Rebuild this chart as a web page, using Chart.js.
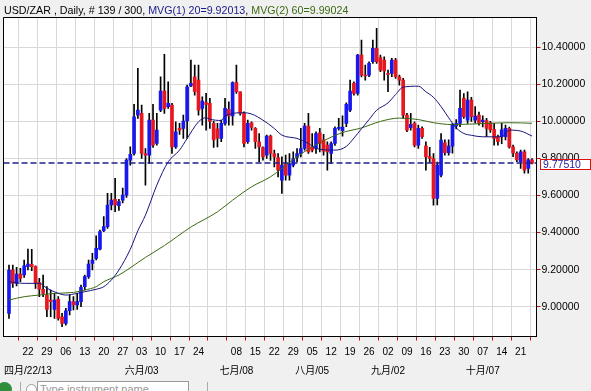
<!DOCTYPE html>
<html><head><meta charset="utf-8">
<script src="https://cdn.jsdelivr.net/npm/chart.js@4.4.1/dist/chart.umd.min.js"></script>
<style>
html,body{margin:0;padding:0;background:#f0f0f0;width:591px;height:391px;overflow:hidden;position:relative;font-family:"Liberation Sans",Arial,sans-serif;}
#c{position:absolute;left:0;top:0;}
#title{position:absolute;left:4px;top:3.5px;font-size:10.7px;line-height:12px;white-space:nowrap;color:#000;}
.m1{color:#1a1a8c}.m2{color:#3d6a14}
#dot{position:absolute;left:-3px;top:382px;width:15px;height:15px;border-radius:50%;background:#2f8f3a;}
#sep1{position:absolute;left:20px;top:382px;width:1px;height:12px;background:#aaa;}
#radio{position:absolute;left:26px;top:384px;width:9px;height:9px;border-radius:50%;border:1px solid #999;background:#fff;}
#inp{position:absolute;left:37px;top:381px;width:148px;height:14px;border:1px solid #9a9a9a;background:#fff;font-size:11px;color:#999;line-height:14px;padding-left:2px;white-space:nowrap;overflow:hidden;}
#sep2{position:absolute;left:207px;top:382px;width:1px;height:12px;background:#aaa;}
</style></head>
<body>
<canvas id="c" width="591" height="391"></canvas>
<div id="title">USD/ZAR , Daily, # 139 / 300, <span class="m1">MVG(1) 20=9.92013</span>, <span class="m2">MVG(2) 60=9.99024</span></div>
<div id="dot"></div><div id="sep1"></div><div id="radio"></div><div id="inp">Type instrument name</div><div id="sep2"></div>
<script>
// ---- data (daily candles, 15 Apr 2013 .. 24 Oct 2013) ----
const opens = [8.964,9.198,9.126,9.176,9.171,9.216,9.229,9.216,9.130,9.094,
9.063,9.036,8.986,9.040,8.946,8.910,8.978,9.027,9.009,9.027,
9.108,9.162,9.234,9.261,9.310,9.410,9.432,9.549,9.580,9.545,
9.575,9.602,9.791,9.827,10.034,10.043,9.827,9.818,10.007,9.881,
10.061,10.164,10.079,10.088,9.863,9.962,9.962,10.002,10.192,10.241,
10.223,10.070,10.102,10.097,9.990,9.960,9.908,9.989,10.065,10.029,
10.209,10.160,10.043,9.890,9.993,9.962,9.890,9.859,9.818,9.921,
9.827,9.805,9.683,9.773,9.710,9.764,9.805,9.827,9.854,9.975,
9.863,9.854,9.939,9.900,9.872,9.827,9.881,9.962,9.950,9.989,
10.061,10.205,10.151,10.358,10.250,10.250,10.322,10.394,10.344,10.331,
10.259,10.259,10.331,10.241,10.223,10.034,9.966,9.989,9.872,9.962,
9.868,9.810,9.800,9.584,9.710,9.885,9.831,9.867,9.975,9.989,
10.124,10.007,10.115,10.007,10.034,9.998,10.004,9.993,9.957,9.917,
9.917,9.917,9.962,9.863,9.828,9.783,9.836,9.746,9.792];
const highs = [9.225,9.225,9.212,9.207,9.252,9.311,9.310,9.220,9.153,9.171,
9.108,9.090,9.072,9.054,8.964,8.991,9.063,9.054,9.072,9.117,
9.171,9.252,9.288,9.382,9.414,9.486,9.612,9.612,9.693,9.580,
9.640,9.800,9.863,10.092,10.286,10.088,9.854,10.043,10.092,10.043,
10.241,10.362,10.214,10.097,9.998,9.990,10.034,10.196,10.331,10.304,
10.304,10.133,10.151,10.124,10.000,9.990,10.007,10.124,10.106,10.214,
10.304,10.160,10.052,10.007,9.998,9.967,9.935,9.863,9.926,9.926,
9.845,9.827,9.809,9.818,9.827,9.836,9.854,9.962,9.989,10.043,
9.935,9.944,9.962,9.930,9.890,9.890,9.971,10.016,10.030,10.100,
10.223,10.214,10.362,10.439,10.304,10.322,10.439,10.502,10.358,10.349,
10.277,10.340,10.340,10.250,10.232,10.043,10.043,9.998,9.980,9.971,
9.890,9.860,9.827,9.780,9.935,9.900,9.900,9.990,10.010,10.169,
10.150,10.160,10.130,10.080,10.050,10.030,10.016,10.000,9.990,9.926,
9.990,9.980,9.970,9.872,9.836,9.845,9.845,9.800,9.800];
const lows = [8.937,9.104,9.112,9.135,9.158,9.198,9.194,9.099,9.054,9.054,
8.946,8.946,8.937,8.928,8.892,8.901,8.955,8.982,8.986,9.000,
9.090,9.153,9.198,9.252,9.306,9.405,9.423,9.522,9.513,9.520,
9.560,9.590,9.764,9.818,10.016,9.800,9.656,9.773,9.860,9.872,
10.052,10.043,10.070,9.827,9.854,9.930,9.908,9.908,10.187,10.142,
10.034,9.980,9.953,9.962,9.860,9.863,9.890,9.980,9.980,9.980,
10.151,10.034,9.863,9.881,9.953,9.854,9.782,9.791,9.800,9.790,
9.755,9.701,9.611,9.683,9.683,9.755,9.782,9.809,9.845,9.827,
9.836,9.827,9.836,9.818,9.737,9.773,9.870,9.953,9.920,9.971,
10.052,10.142,10.142,10.240,10.223,10.241,10.313,10.313,10.268,10.223,
10.160,10.241,10.232,10.196,10.016,9.944,9.953,9.863,9.854,9.908,
9.737,9.780,9.548,9.549,9.700,9.818,9.818,9.828,9.960,9.971,
10.016,9.989,10.000,9.990,9.980,9.970,9.917,9.940,9.872,9.872,
9.880,9.900,9.855,9.810,9.783,9.746,9.720,9.720,9.770];
const closes = [9.198,9.126,9.176,9.153,9.220,9.230,9.216,9.130,9.094,9.072,
8.986,9.027,9.036,8.937,8.910,8.978,9.027,9.009,9.027,9.104,
9.162,9.230,9.252,9.315,9.405,9.432,9.549,9.576,9.549,9.568,
9.602,9.791,9.822,10.025,10.061,9.827,9.818,10.007,9.872,9.953,
10.164,10.070,10.097,9.863,9.944,9.953,10.002,10.187,10.205,10.160,
10.061,10.110,10.092,10.000,9.900,9.910,9.989,10.070,10.029,10.209,
10.160,10.043,9.881,9.989,9.967,9.890,9.863,9.809,9.921,9.827,
9.809,9.737,9.764,9.710,9.773,9.800,9.827,9.854,9.975,9.836,
9.845,9.935,9.881,9.840,9.836,9.881,9.962,9.966,9.970,10.092,
10.164,10.151,10.358,10.250,10.245,10.313,10.394,10.322,10.277,10.272,
10.254,10.331,10.241,10.223,10.034,9.953,9.984,9.872,9.962,9.917,
9.809,9.800,9.584,9.764,9.899,9.831,9.867,9.980,9.990,10.070,
10.025,10.115,10.025,10.029,9.989,10.007,9.962,9.954,9.908,9.890,
9.954,9.962,9.863,9.828,9.792,9.836,9.737,9.792,9.7751];

// moving averages (candle index -> value)
const ma20Idx = [0,4,8,10,13,15,18,20,23,25,27,29,32,34,36,39,42,45,47,50,52,53,56,57,62,64,67,70,72,76,79,81,86,89,91,93,95,97,100,102,104,108,110,112,114,116,118,120,122,125,130,132,135,138];
const ma20Val = [9.135,9.126,9.126,9.100,9.072,9.063,9.072,9.081,9.094,9.108,9.144,9.198,9.310,9.410,9.494,9.656,9.782,9.845,9.908,9.998,10.020,10.012,10.005,10.029,10.047,10.040,10.007,9.962,9.926,9.908,9.881,9.854,9.845,9.865,9.910,9.960,10.010,10.060,10.100,10.145,10.185,10.190,10.160,10.130,10.080,10.020,9.965,9.935,9.925,9.917,9.917,9.953,9.948,9.921];
const ma60Idx = [0,4,8,12,17,20,23,25,27,29,36,41,48,55,59,64,69,72,76,79,82,85,88,93,98,103,108,112,117,126,132,138];
const ma60Val = [9.036,9.054,9.063,9.072,9.077,9.090,9.108,9.135,9.153,9.171,9.266,9.330,9.430,9.512,9.575,9.647,9.701,9.746,9.810,9.850,9.885,9.915,9.940,9.965,10.000,10.018,10.010,9.993,9.983,9.989,9.993,9.990];

const lastPrice = 9.7751;

// x-axis: Monday ticks (candle index), day labels and month labels
const tickIdx = [5,10,15,20,25,30,35,40,45,50,55,60,65,70,75,80,85,90,95,100,105,110,115,120,125,130,135];
const dayLabels = ["22","29","06","13","20","27","03","10","17","24","","08","15","22","29","05","12","19","26","02","09","16","23","30","07","14","21"];
const monthLabels = ["四月/22/13","","","","","","六月/03","","","","","七月/08","","","","八月/05","","","","九月/02","","","","","十月/07","",""];
const yTicks = [9.0,9.2,9.4,9.6,9.8,10.0,10.2,10.4];

// ---- chart ----
const X_MIN = -1.451, X_MAX = 139.18, Y_MIN = 8.8392, Y_MAX = 10.5635;
const BLUE = '#1818ee', RED = '#e8161e';
const FONT = '"Liberation Sans", Arial, "Noto Sans CJK SC", sans-serif';
const idx = opens.map((_, i) => i);

const framePlugin = {
  id: 'frame',
  beforeDraw(chart) {
    const {ctx, chartArea: a} = chart;
    ctx.save(); ctx.fillStyle = '#fff';
    ctx.fillRect(a.left, a.top, a.right - a.left, a.bottom - a.top);
    ctx.restore();
  },
  afterDraw(chart) {
    const {ctx, chartArea: a} = chart;
    ctx.save();
    ctx.strokeStyle = '#000'; ctx.lineWidth = 1;
    ctx.beginPath();
    const l = Math.floor(a.left) + 0.5, t = Math.floor(a.top) + 0.5;
    ctx.moveTo(l, Math.ceil(a.bottom)); ctx.lineTo(l, t); ctx.lineTo(Math.ceil(a.right), t);
    ctx.stroke();
    // current price box on the right axis
    const y = chart.scales.y.getPixelForValue(lastPrice);
    const top = Math.round(y - 4.5) + 0.5;
    ctx.fillStyle = '#fff';
    ctx.fillRect(540.5, top, 50, 10);
    ctx.strokeStyle = '#e01010';
    ctx.strokeRect(540.5, top, 50, 10);
    ctx.fillStyle = '#1a1aa0';
    ctx.font = '10.5px ' + FONT;
    ctx.textBaseline = 'middle';
    ctx.fillText(lastPrice.toFixed(5), 543, top + 5.5);
    ctx.restore();
  }
};

new Chart(document.getElementById('c'), {
  type: 'bar',
  data: {
    datasets: [
      {type: 'line', data: [{x: X_MIN, y: lastPrice}, {x: X_MAX, y: lastPrice}], borderColor: '#1f1f8f', borderWidth: 1.5, borderDash: [6, 3], pointRadius: 0, order: 0},
      {type: 'line', data: ma20Idx.map((x, k) => ({x, y: ma20Val[k]})), borderColor: '#16167c', borderWidth: 1, pointRadius: 0, cubicInterpolationMode: 'monotone', order: 1},
      {type: 'line', data: ma60Idx.map((x, k) => ({x, y: ma60Val[k]})), borderColor: '#3c6a14', borderWidth: 1, pointRadius: 0, cubicInterpolationMode: 'monotone', order: 1},
      {type: 'bar', data: idx.map(i => ({x: i, y: [opens[i], closes[i]]})), backgroundColor: idx.map(i => closes[i] >= opens[i] ? BLUE : RED), barThickness: 3, minBarLength: 1, grouped: false, order: 2},
      {type: 'bar', data: idx.map(i => ({x: i, y: [lows[i], highs[i]]})), backgroundColor: '#000', barThickness: 1, grouped: false, order: 3}
    ]
  },
  options: {
    responsive: false, animation: false, devicePixelRatio: 1,
    layout: {padding: {left: 3.5, top: 17, right: 0, bottom: 0}},
    plugins: {legend: {display: false}, tooltip: {enabled: false}},
    scales: {
      x: {
        type: 'linear', position: 'bottom', min: X_MIN, max: X_MAX, offset: false,
        afterBuildTicks: s => { s.ticks = tickIdx.map(v => ({value: v})); },
        afterFit: s => { s.height = 54.5; s.paddingLeft = 0; s.paddingRight = 0; },
        ticks: {
          autoSkip: false, maxRotation: 0, minRotation: 0, padding: 2, color: '#000',
          font: {family: FONT, size: 10, lineHeight: '19px'},
          callback: v => { const k = tickIdx.indexOf(v); if (k < 0) return ''; return monthLabels[k] ? [dayLabels[k], monthLabels[k]] : dayLabels[k]; }
        },
        grid: {color: '#d8d8d8', tickColor: '#c01010', tickLength: 4, drawTicks: true},
        border: {color: '#000', width: 1}
      },
      y: {
        type: 'linear', position: 'right', min: Y_MIN, max: Y_MAX,
        afterBuildTicks: s => { s.ticks = yTicks.map(v => ({value: v})); },
        afterFit: s => { s.width = 54.5; s.paddingTop = 0; s.paddingBottom = 0; },
        ticks: {padding: 1, color: '#000', font: {family: FONT, size: 10.5}, callback: v => Number(v).toFixed(5)},
        grid: {color: '#d8d8d8', tickColor: '#c01010', tickLength: 4, drawTicks: true},
        border: {color: '#000', width: 1}
      }
    }
  },
  plugins: [framePlugin]
});
</script>
</body></html>
